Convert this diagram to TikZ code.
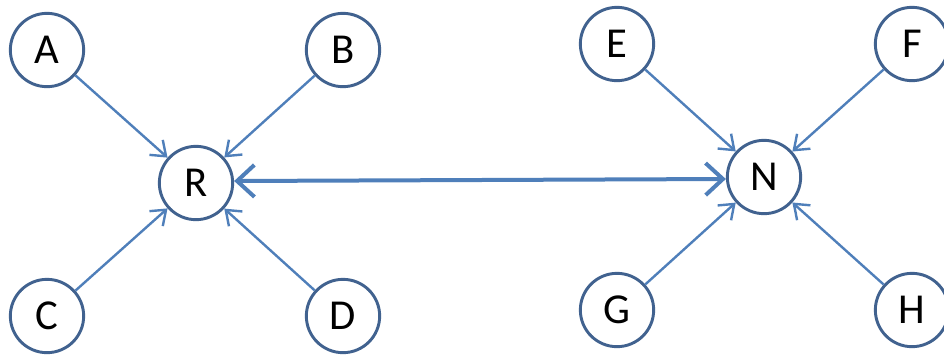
\documentclass[tikz,border=0pt]{standalone}
\usepackage{fontspec}
\setmainfont{Carlito}
\usepackage{xcolor}
\usetikzlibrary{
    arrows.meta,
    shapes,
    positioning,
    calc
}
\definecolor{ringblue}{HTML}{41628F}
\definecolor{linkblue}{HTML}{4F7FBA}
\tikzset{
    peer/.style={circle, draw=ringblue, line width=2.2pt, fill=white,
        minimum size=55pt, inner sep=0pt, font=\fontsize{32}{32}\selectfont},
    feed/.style={draw=linkblue, line width=1.8pt,
        -{Straight Barb[length=10pt,width=15pt]}},
    trunk/.style={draw=linkblue, line width=3pt,
        {Straight Barb[length=13pt,width=24pt]}-{Straight Barb[length=13pt,width=24pt]}}
}

\begin{document}
\begin{tikzpicture}[x=0.75pt, y=-0.75pt]
                \useasboundingbox (0, 0) rectangle (944, 358);
                % left group
                \node [peer] (R) at (196, 183) {R};
                \node [peer] (A) at (47, 50) {A};
                \node [peer] (B) at (343, 50) {B};
                \node [peer] (C) at (47, 316) {C};
                \node [peer] (D) at (343, 316) {D};
                % right group
                \node [peer] (N) at (764, 177) {N};
                \node [peer] (E) at (617, 44) {E};
                \node [peer] (F) at (912, 44) {F};
                \node [peer] (G) at (617, 310) {G};
                \node [peer] (H) at (912, 310) {H};

                \foreach \s in {A, B, C, D}{
                    \draw [feed] (\s) -- (R);
                }
                \foreach \s in {E, F, G, H}{
                    \draw [feed] (\s) -- (N);
                }
                \draw [trunk] ($(R.east)+(0,-2)$) -- ($(N.west)+(0,2)$);
            \end{tikzpicture}
\end{document}
